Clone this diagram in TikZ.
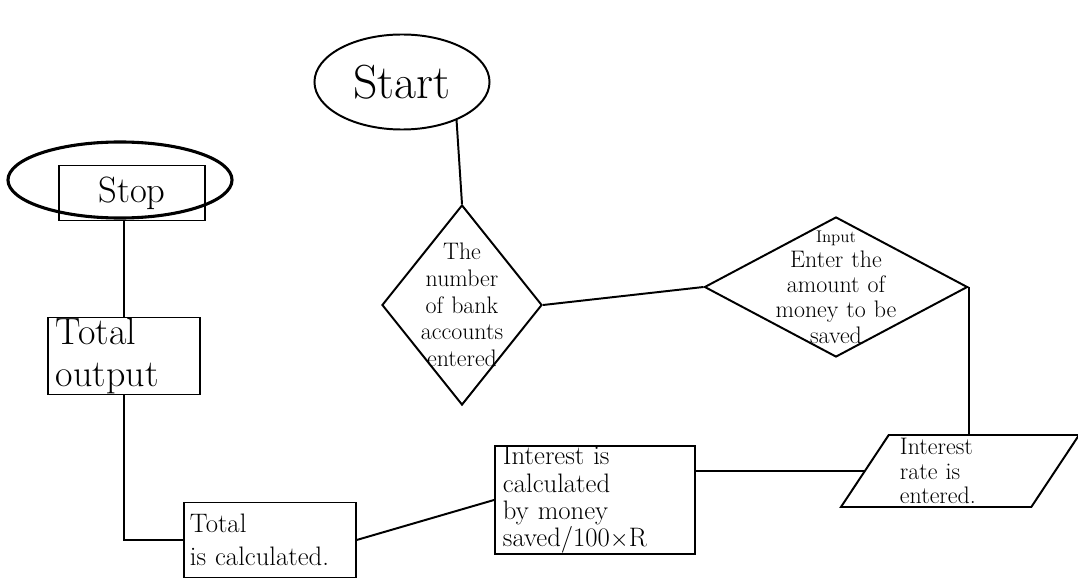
\documentclass[tikz,border=0pt]{standalone}
\usetikzlibrary{shapes.geometric}
\newcommand{\handsize}[2]{\fontsize{#1}{#2}\selectfont}
\begin{document}
\begin{tikzpicture}[x=0.025cm, y=-0.025cm, line width=1.4pt,
    oval/.style={draw, ellipse, inner sep=0pt},
    box/.style={draw, rectangle, inner xsep=4pt, inner ysep=0pt, align=left},
    choice/.style={draw, diamond, inner sep=0pt},
    io/.style={draw, trapezium, trapezium stretches body, trapezium left angle=54,
      trapezium right angle=126, inner sep=0pt, align=left}]
            \useasboundingbox (0,0) rectangle (1078,584);
            \node[oval, minimum width=4.375cm, minimum height=2.375cm, font=\handsize{34}{40}] (start) at (402,82) {Start};
            \node[oval, line width=2.2pt, minimum width=5.6cm, minimum height=1.9cm] (stop) at (120,180) {};
            \node[box, minimum width=3.625cm, minimum height=1.375cm, font=\handsize{26}{30}] (stoptxt) at (132,193) {Stop};
            \node[choice, minimum width=4cm, minimum height=5cm,
                label={[font=\handsize{17}{19}, align=center, text width=2.4cm]center:The number of bank accounts entered}] (d1) at (462,305) {};
            \node[choice, minimum width=6.575cm, minimum height=3.5cm,
                label={[font=\handsize{17}{18}, align=center, text width=3.4cm]center:{\handsize{12}{14}Input}\\ Enter the\\ amount of\\ money to be\\ saved}] (d2) at (836,287) {};
            \node[io, minimum width=5.95cm, minimum height=1.8cm, text width=3cm, font=\handsize{17}{17.5}] (rate) at (960,471)
                {Interest\\ rate is\\ entered.};
            \node[box, minimum width=5cm, minimum height=2.6cm, text width=4.6cm, font=\handsize{19}{19.5}] (calc) at (595,500)
                {Interest is\\ calculated\\ by money\\ saved/100$\times$R};
            \node[box, minimum width=4.25cm, minimum height=1.875cm, text width=4cm, font=\handsize{19}{23}] (totcalc) at (270,540)
                {Total\\ is calculated.};
            \node[box, minimum width=3.8cm, minimum height=1.925cm, text width=3.4cm, font=\handsize{27}{30}] (tout) at (124,356)
                {Total\\ output};
            \draw (start.-35) -- (d1.north);
            \draw (d1.east) -- (d2.west);
            \draw (d2.east) -- (d2.east |- rate.north);
            \draw (rate.west) -- (calc.east |- rate.west);
            \draw (calc.west) -- (totcalc.east);
            \draw (totcalc.west) -| (tout.south);
            \draw (tout.north) -- (tout.north |- stop.south);
        \end{tikzpicture}
\end{document}
